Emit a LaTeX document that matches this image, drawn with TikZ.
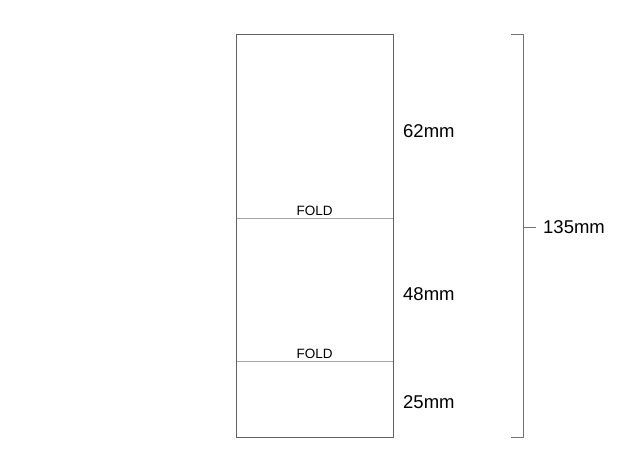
\documentclass[tikz,border=0pt]{standalone}
\usepackage{fontspec}
\setmainfont{Liberation Sans}
\usetikzlibrary{positioning}

\tikzstyle{sizelabel} = [anchor=west, inner sep=0pt, font=\fontsize{18.5}{20}\selectfont]
\tikzstyle{foldlabel} = [anchor=south, inner sep=0pt, font=\fontsize{13.5}{15}\selectfont]

\begin{document}
\begin{tikzpicture}[x=1pt, y=-1pt]
	\tikzstyle{outline}=[draw=black!62, line width=1pt]
	\tikzstyle{foldline}=[draw=black!35, line width=1pt]
	\tikzstyle{bracket}=[draw=black!55, line width=1pt]
\useasboundingbox (0,0) rectangle (628,472);
  % sheet and folds
  \coordinate (tl) at (236,34);
  \coordinate (br) at (393,437);
  \coordinate (fold1-l) at (236,218.5);
  \coordinate (fold1-r) at (393,218.5);
  \coordinate (fold2-l) at (236,361.5);
  \coordinate (fold2-r) at (393,361.5);
  \draw[foldline] (fold1-l) -- (fold1-r);
  \draw[foldline] (fold2-l) -- (fold2-r);
  \draw[outline] (tl) rectangle (br);
  \node[foldlabel] (fold1) at (314.5,216) {FOLD};
  \node[foldlabel] (fold2) at (314.5,359) {FOLD};
  % panel sizes
  \node[sizelabel] (size1) at (403,131) {62mm};
  \node[sizelabel] (size2) at (403,294) {48mm};
  \node[sizelabel] (size3) at (403,402.5) {25mm};
  % overall bracket
  \coordinate (brk-top) at (523,34);
  \coordinate (brk-bot) at (523,437.5);
  \coordinate (brk-mid) at (523,227.5);
  \coordinate (brk-tick) at (536,227.5);
  \draw[bracket] (511,34) -- (brk-top) -- (brk-bot) -- (511,437.5);
  \node[sizelabel] (total) at (543,227.5) {135mm};
  \draw[bracket] (brk-mid) -- (brk-tick);
\end{tikzpicture}
\end{document}
